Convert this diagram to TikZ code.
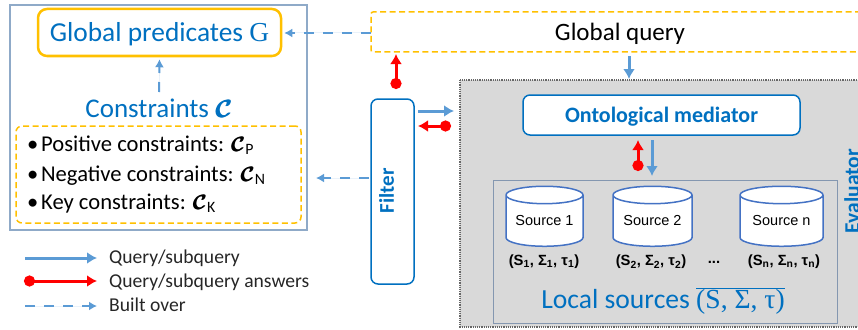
\documentclass[tikz,border=0pt]{standalone}
\usepackage{fontspec}
\setmainfont{Carlito}
\newfontfamily\arialfont{Liberation Sans}
\newfontfamily\timesfont{Liberation Serif}
\usetikzlibrary{arrows.meta,shapes.geometric}
\definecolor{boxblue}{HTML}{0070C0}
\definecolor{linkblue}{HTML}{5B9BD5}
\definecolor{boxgold}{HTML}{FFC000}
\definecolor{framegrey}{HTML}{8FAAC8}
\definecolor{innergrey}{HTML}{8497B0}
\definecolor{dbblue}{HTML}{4472C4}
\def\calC{{\boldmath\rlap{$\mathcal{C}$}\kern0.035em$\mathcal{C}$}}
\tikzset{
	queryarrow/.style={draw=linkblue, fill=linkblue, line width=3pt, -{Latex[length=10pt,width=12pt]}},
	answerarrow/.style={draw=red, fill=red, line width=3pt, {Circle[length=11pt,width=11pt]}-{Latex[length=10pt,width=12pt]}},
	builtarrow/.style={draw=linkblue, fill=linkblue, line width=2pt, dash pattern=on 10pt off 9pt, -{Latex[length=8pt,width=9pt]}},
	goldbox/.style={draw=boxgold, dash pattern=on 6pt off 3.5pt, line width=1.5pt, rounded corners=6pt},
	bluebox/.style={draw=boxblue, fill=white, line width=1.5pt, rounded corners=7pt},
	sourcedb/.style={cylinder, shape border rotate=90, aspect=0.3, draw=dbblue, fill=white, line width=1.5pt, minimum width=77pt, minimum height=60pt, inner sep=0pt, font=\arialfont\fontsize{14.5}{14.5}\selectfont},
	sourcetag/.style={font=\arialfont\bfseries\fontsize{14.8}{14.8}\selectfont},
	itemtext/.style={anchor=west, inner sep=0pt, text height=14pt, text depth=4pt, font=\fontsize{22.6}{22.6}\selectfont},
	legendtext/.style={anchor=west, inner sep=0pt, text=black!85, font=\fontsize{19.6}{19.6}\selectfont}
}

\begin{document}
\begin{tikzpicture}[x=1pt, y=-1pt]
		\useasboundingbox (0, 0) rectangle (858, 329);
		%%%%% LEFT PANEL %%%%%
		\draw[draw=framegrey, line width=1.2pt] (10, 5) rectangle (307, 230);
		\node[draw=boxgold, line width=2.5pt, rounded corners=9pt, minimum width=243pt, minimum height=47pt, text height=23pt, text depth=5.4pt, text=boxblue, font=\fontsize{27.4}{27.4}\selectfont] (predicates) at (159.5, 32.5) {Global predicates {\timesfont G}};
		\node[text=boxblue, font=\fontsize{27}{27}\selectfont] (constraints) at (159, 108) {Constraints \calC};
		\node[goldbox, minimum width=285pt, minimum height=97pt] (kinds) at (158.5, 174.5) {};
		\node[itemtext] (positive) at (27, 146.5) {•\kern0.12em Positive constraints: \calC\textsubscript{P}};
		\node[itemtext] (negative) at (27, 176.5) {•\kern0.12em Negative constraints: \calC\textsubscript{N}};
		\node[itemtext] (key) at (27, 204.5) {•\kern0.12em Key constraints: \calC\textsubscript{K}};
		
		%%%%% QUERY AND FILTER %%%%%
		\draw[goldbox, rounded corners=2pt] (880, 12) -- (371, 12) -- (371, 52) -- (880, 52);
		\coordinate (queryleft) at (371, 33);
		\node[font=\fontsize{25}{25}\selectfont] (query) at (620, 33.5) {Global query};
		\node[bluebox, minimum width=43pt, minimum height=185pt] (filter) at (392.5, 191.5) {};
		\node[rotate=90, text=boxblue, font=\bfseries\fontsize{21}{21}\selectfont] (filtertext) at (386.5, 191) {Filter};
		
		%%%%% EVALUATOR %%%%%
		\draw[fill=black!15, draw=black!60, densely dotted, line width=1.2pt] (460, 80) rectangle (880, 327);
		\node[bluebox, minimum width=277pt, minimum height=40pt, text height=19pt, text depth=4pt, text=boxblue, font=\bfseries\fontsize{22}{22}\selectfont] (mediator) at (661.5, 115) {Ontological mediator};
		\node[rotate=90, text=boxblue, font=\bfseries\fontsize{21.5}{21.5}\selectfont] (evaluator) at (852, 191) {Evaluator};
		\draw[draw=innergrey, line width=1pt] (493, 180) rectangle (837, 323);
		\node[sourcedb] (source1) at (544.5, 221) {Source 1};
		\node[sourcedb, minimum width=79pt] (source2) at (652.5, 221) {Source 2};
		\node[sourcedb, minimum width=83pt] (sourcen) at (781.5, 221) {Source n};
		\node[sourcetag] (tag1) at (544, 262) {(S\textsubscript{1}, Σ\textsubscript{1}, τ\textsubscript{1})};
		\node[sourcetag] (tag2) at (651, 262) {(S\textsubscript{2}, Σ\textsubscript{2}, τ\textsubscript{2})};
		\node[sourcetag] (dots) at (714, 262) {...};
		\node[sourcetag] (tagn) at (784, 262) {(S\textsubscript{n}, Σ\textsubscript{n}, τ\textsubscript{n})};
		\node[text=boxblue, font=\fontsize{27.6}{27.6}\selectfont] (locals) at (663, 301) {Local sources $\overline{\hbox{{\timesfont(S, Σ, τ)}}}$};
		
		%%%%% CONNECTORS %%%%%
		\draw[builtarrow] (queryleft) -- ([xshift=2pt]predicates.east |- queryleft);
		\coordinate (constraintstop) at (159, 92);
		\draw[builtarrow] (constraintstop) -- ([yshift=-2pt]predicates.south);
		\coordinate (filterbuilt) at (369, 178);
		\coordinate (kindsbuilt) at (316, 178);
		\draw[builtarrow] (filterbuilt) -- (kindsbuilt);
		\coordinate (filterdot) at (396, 89);
		\coordinate (querybottom) at (396, 54);
		\draw[answerarrow] (filterdot) -- (querybottom);
		\coordinate (filterout) at (418, 111);
		\coordinate (evalin) at (454, 111);
		\draw[queryarrow] (filterout) -- (evalin);
		\coordinate (evaldot) at (451, 126);
		\coordinate (filterin) at (418, 126);
		\draw[answerarrow] (evaldot) -- (filterin);
		\coordinate (querydown) at (629, 56);
		\coordinate (evaltop) at (629, 79);
		\draw[queryarrow] (querydown) -- (evaltop);
		\coordinate (localsdot) at (638, 171);
		\coordinate (mediatorin) at (638, 140);
		\draw[answerarrow] (localsdot) -- (mediatorin);
		\coordinate (mediatorout) at (652, 140);
		\coordinate (localsin) at (652, 176);
		\draw[queryarrow] (mediatorout) -- (localsin);
		
		%%%%% LEGEND %%%%%
		\coordinate (key1a) at (25, 258);
		\coordinate (key1b) at (97, 258);
		\draw[queryarrow] (key1a) -- (key1b);
		\node[legendtext] (legend1) at (109, 258) {Query/subquery};
		\coordinate (key2a) at (24, 281);
		\coordinate (key2b) at (97, 281);
		\draw[answerarrow] (key2a) -- (key2b);
		\node[legendtext] (legend2) at (109, 282) {Query/subquery answers};
		\coordinate (key3a) at (25, 306);
		\coordinate (key3b) at (97, 306);
		\draw[builtarrow] (key3a) -- (key3b);
		\node[legendtext] (legend3) at (109, 305) {Built over};
		%%%%% END %%%%%
	\end{tikzpicture}
\end{document}
